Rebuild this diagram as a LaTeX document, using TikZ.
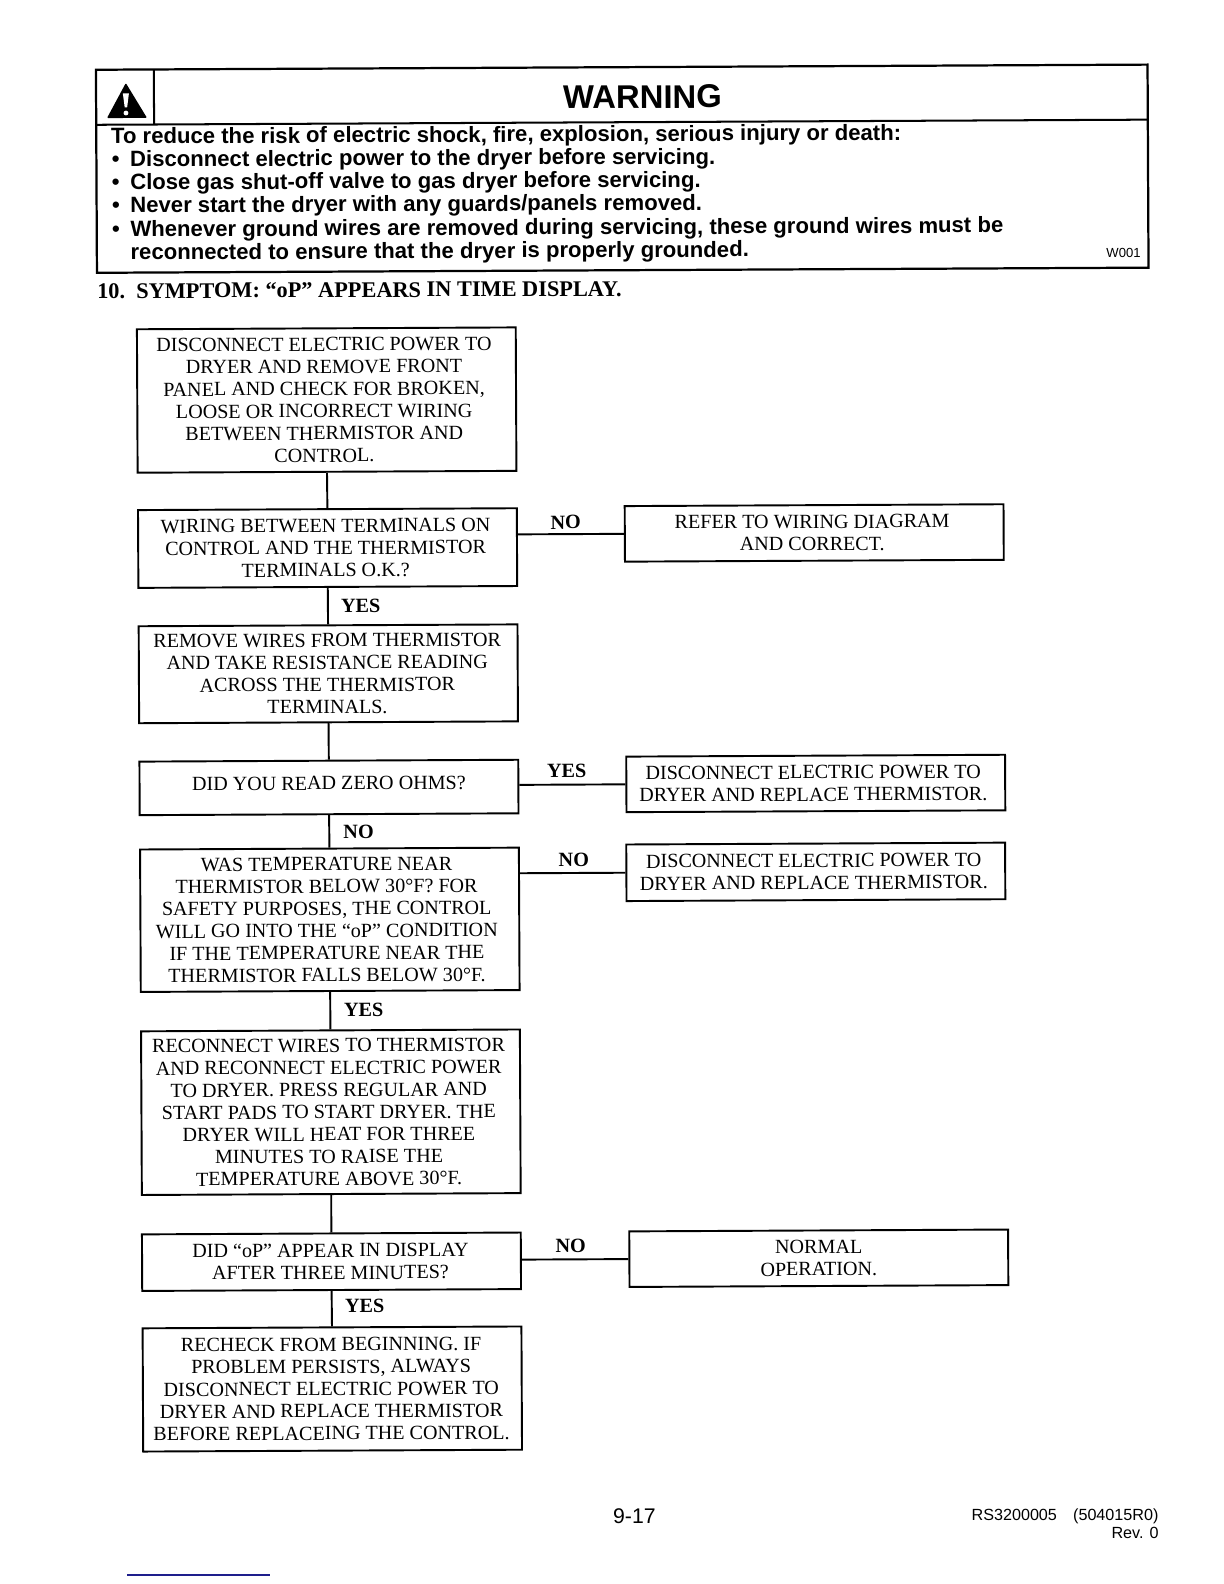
\documentclass[tikz,border=0pt]{standalone}
\usepackage{fontspec}
\setmainfont{Liberation Serif}
\newfontfamily\arialf{Liberation Sans}
\newcommand\shiftedtext[3][2]{\hspace*{-#2pt}\raisebox{0pt}[\dimexpr\height+#1pt\relax][\dimexpr\depth-#1pt\relax]{\begin{tabular}{@{}c@{}}#3\end{tabular}}}
\tikzset{
 flowbox/.style={draw=black,line width=1.9pt,fill=white,inner sep=0pt,transform shape,font=\fontsize{19.9}{22}\selectfont},
 wide/.style={minimum width=375pt},
 flowline/.style={draw=black,line width=1.9pt},
 lab/.style={inner sep=0pt,transform shape,font=\fontsize{20}{22}\selectfont\bfseries},
 warnline/.style={anchor=base west,inner sep=0pt,transform shape,font=\arialf\bfseries\fontsize{21.9}{23}\selectfont},
 foot/.style={inner sep=0pt,transform shape,font=\arialf\fontsize{16}{18}\selectfont},
}
\begin{document}
\begin{tikzpicture}[x=1pt,y=-1pt]
\useasboundingbox (0,0) rectangle (1211.6,1568);
\fill[white] (0,0) rectangle (1211.6,1568);
\begin{scope}[rotate around={0.28:(612,792)}]
% warning panel
\node[draw=black,line width=2.2pt,minimum width=1041pt,minimum height=201pt,inner sep=0pt,transform shape] (panel) at (619,167) {};
\coordinate (hl) at (98.5,121);
\coordinate (hr) at (1139.5,121);
\coordinate (vt) at (155.8,66.5);
\coordinate (vb) at (155.8,121);
\draw[line width=2pt] (hl) -- (hr);
\draw[line width=2pt] (vt) -- (vb);
\fill[black,rounded corners=1pt] (128,79.8) -- (109.2,114.4) -- (148.8,114.4) -- cycle;
\fill[white] (125,90) -- (131,90) -- (129.2,104) -- (126.8,104) -- cycle;
\fill[white] (128,109.5) circle (2.4);
\node[inner sep=0pt,transform shape,font=\arialf\bfseries\fontsize{32.5}{34}\selectfont] (warn) at (639.4,96) {WARNING};
\node[warnline] (w0) at (113,140) {To reduce the risk of electric shock, fire, explosion, serious injury or death:};
\node[warnline] (b1) at (113.5,162.8) {•};
\node[warnline] (w1) at (131.7,162.8) {Disconnect electric power to the dryer before servicing.};
\node[warnline] (b2) at (113.5,185.5) {•};
\node[warnline] (w2) at (131.7,185.5) {Close gas shut-off valve to gas dryer before servicing.};
\node[warnline] (b3) at (113.5,208.3) {•};
\node[warnline] (w3) at (131.7,208.3) {Never start the dryer with any guards/panels removed.};
\node[warnline] (b4) at (113.5,232.1) {•};
\node[warnline] (w4) at (131.7,232.1) {Whenever ground wires are removed during servicing, these ground wires must be};
\node[warnline] (w5) at (131.7,254.9) {reconnected to ensure that the dryer is properly grounded.};
\node[inner sep=0pt,anchor=base east,transform shape,font=\arialf\fontsize{13}{14}\selectfont] (code) at (1132,257) {W001};
% title
\node[anchor=base west,inner sep=0pt,transform shape,font=\bfseries\fontsize{22.1}{24}\selectfont] (title) at (98.5,293) {10.\ \ SYMPTOM: “oP” APPEARS IN TIME DISPLAY.};
% main column
\node[flowbox,wide,minimum height=142pt] (A) at (325.3,394.6) {\shiftedtext{5}{DISCONNECT ELECTRIC POWER TO\\DRYER AND REMOVE FRONT\\PANEL AND CHECK FOR BROKEN,\\LOOSE OR INCORRECT WIRING\\BETWEEN THERMISTOR AND\\CONTROL.}};
\node[flowbox,wide,minimum height=77pt] (B) at (325.5,541.1) {\shiftedtext{4}{WIRING BETWEEN TERMINALS ON\\CONTROL AND THE THERMISTOR\\TERMINALS O.K.?}};
\node[flowbox,wide,minimum height=96pt] (C) at (325.6,665.6) {\shiftedtext{2}{REMOVE WIRES FROM THERMISTOR\\AND TAKE RESISTANCE READING\\ACROSS THE THERMISTOR\\TERMINALS.}};
\node[flowbox,wide,minimum height=53pt] (D) at (325.7,778.1) {\shiftedtext[-2]{0}{DID YOU READ ZERO OHMS?}};
\node[flowbox,wide,minimum height=141pt] (E) at (325.9,909.1) {\shiftedtext{6}{WAS TEMPERATURE NEAR\\THERMISTOR BELOW 30°F? FOR\\SAFETY PURPOSES, THE CONTROL\\WILL GO INTO THE “oP” CONDITION\\IF THE TEMPERATURE NEAR THE\\THERMISTOR FALLS BELOW 30°F.}};
\node[flowbox,wide,minimum height=162pt] (F) at (326,1099.6) {\shiftedtext{4}{RECONNECT WIRES TO THERMISTOR\\AND RECONNECT ELECTRIC POWER\\TO DRYER. PRESS REGULAR AND\\START PADS TO START DRYER. THE\\DRYER WILL HEAT FOR THREE\\MINUTES TO RAISE THE\\TEMPERATURE ABOVE 30°F.}};
\node[flowbox,wide,minimum height=56pt] (G) at (325.9,1247.6) {\shiftedtext{2}{DID “oP” APPEAR IN DISPLAY\\AFTER THREE MINUTES?}};
\node[flowbox,wide,minimum height=122pt] (H) at (326.1,1373.6) {\shiftedtext{2}{RECHECK FROM BEGINNING. IF\\PROBLEM PERSISTS, ALWAYS\\DISCONNECT ELECTRIC POWER TO\\DRYER AND REPLACE THERMISTOR\\BEFORE REPLACEING THE CONTROL.}};
% right column
\node[flowbox,wide,minimum height=55pt] (R1) at (807.3,528.5) {\shiftedtext{4}{REFER TO WIRING DIAGRAM\\AND CORRECT.}};
\node[flowbox,wide,minimum height=55pt] (R2) at (807.6,776.5) {\shiftedtext{5}{DISCONNECT ELECTRIC POWER TO\\DRYER AND REPLACE THERMISTOR.}};
\node[flowbox,wide,minimum height=56pt] (R3) at (807.2,864) {\shiftedtext{4}{DISCONNECT ELECTRIC POWER TO\\DRYER AND REPLACE THERMISTOR.}};
\node[flowbox,wide,minimum height=55pt] (R4) at (808.3,1246.5) {\shiftedtext{0}{NORMAL\\OPERATION.}};
% connectors
\draw[flowline] (A.south) -- (B.north);
\draw[flowline] (B.south) -- (C.north);
\draw[flowline] (C.south) -- (D.north);
\draw[flowline] (D.south) -- (E.north);
\draw[flowline] (E.south) -- (F.north);
\draw[flowline] (F.south) -- (G.north);
\draw[flowline] (G.south) -- (H.north);
\draw[flowline] (R1.west) -- (R1.west -| B.east);
\draw[flowline] (R2.west) -- (R2.west -| D.east);
\draw[flowline] (R3.west) -- (R3.west -| E.east);
\draw[flowline] (R4.west) -- (R4.west -| G.east);
% labels
\node[lab] (l1) at (561.3,516.8) {NO};
\node[lab] (l2) at (358,598.7) {YES};
\node[lab] (l3) at (561.1,762.8) {YES};
\node[lab] (l4) at (354.8,821.8) {NO};
\node[lab] (l5) at (567.7,850.8) {NO};
\node[lab] (l6) at (359,998.8) {YES};
\node[lab] (l7) at (562.8,1232.8) {NO};
\node[lab] (l8) at (358.5,1291.7) {YES};
\end{scope}
% footer
\node[inner sep=0pt,font=\arialf\fontsize{21}{22}\selectfont] (page) at (628,1501) {9-17};
\node[foot,anchor=base east] (doc) at (1147,1505) {RS3200005\hspace{16pt}(504015R0)};
\node[foot,anchor=base east] (rev) at (1147,1523) {Rev. 0};
\draw[color={rgb,255:red,30;green,30;blue,140},line width=1.3pt] (126,1559) -- (267,1559);
\end{tikzpicture}
\end{document}
